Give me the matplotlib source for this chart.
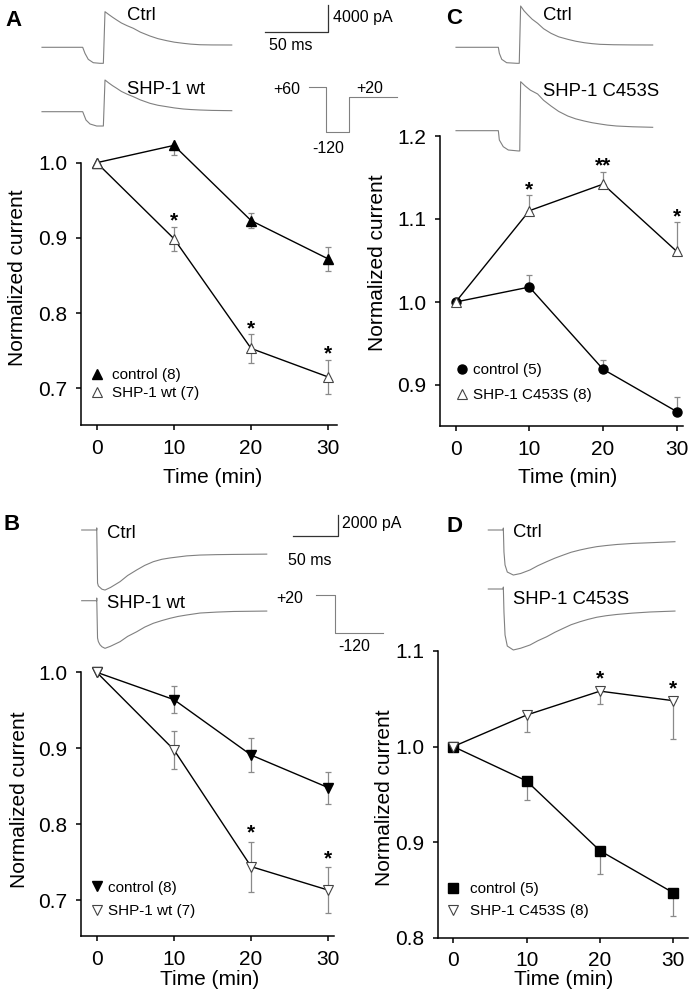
import numpy as np
import matplotlib
matplotlib.use("Agg")
import matplotlib.pyplot as plt
from matplotlib.lines import Line2D

plt.rcParams["font.family"] = ["Liberation Sans", "DejaVu Sans"]

# ---- summary data (normalized current vs time) ----
time_min = [0, 10, 20, 30]

a_ctrl = [1.0, 1.023, 0.923, 0.872]
a_ctrl_err = [0, 0.013, 0.010, 0.016]
a_shp = [1.0, 0.899, 0.753, 0.715]
a_shp_err = [0, 0.016, 0.019, 0.023]
a_stars = ["", "*", "*", "*"]

b_ctrl = [1.0, 0.964, 0.891, 0.848]
b_ctrl_err = [0, 0.018, 0.022, 0.021]
b_shp = [1.0, 0.898, 0.744, 0.713]
b_shp_err = [0, 0.025, 0.033, 0.030]
b_stars = ["", "", "*", "*"]

c_ctrl = [1.0, 1.018, 0.919, 0.868]
c_ctrl_err = [0, 0.014, 0.011, 0.018]
c_shp = [1.0, 1.110, 1.142, 1.061]
c_shp_err = [0, 0.019, 0.015, 0.035]
c_stars = ["", "*", "**", "*"]

d_ctrl = [1.0, 0.964, 0.891, 0.847]
d_ctrl_err = [0, 0.020, 0.024, 0.024]
d_shp = [1.0, 1.033, 1.058, 1.048]
d_shp_err = [0, 0.018, 0.013, 0.040]
d_stars = ["", "", "*", "*"]

# ---- example current traces (ms, pA) ----
a_ctrl_t = [0, 32.3, 34.1, 36.7, 40.7, 46.0, 48.7, 50.0, 53, 56, 59.3, 63, 67.5, 72.5,
            78, 85.7, 92, 99, 105, 112.1, 118, 125.4, 135, 150.6]
a_ctrl_i = [0, 0, -890, -1780, -2280, -2370, -2370, 5270, 4850, 4450, 4040, 3600, 3200, 2810,
            2250, 1670, 1280, 980, 760, 590, 470, 380, 350, 340]
a_shp_t = [0, 32.3, 34.9, 38.1, 43.4, 48.7, 50.0, 53, 56, 59.3, 63, 67.5, 72.5,
           78, 85.7, 92, 99, 105, 112.1, 118, 125.4, 135, 150.6]
a_shp_i = [0, 0, -1230, -1820, -2120, -2120, 4690, 4250, 3850, 3460, 3000, 2600, 2220,
           1750, 1240, 950, 740, 560, 400, 320, 250, 190, 150]

c_ctrl_t = [0, 33.6, 34.4, 36.3, 40.2, 48.2, 50.2, 51.3, 54, 57.1, 60.5, 64.8, 69.5, 75.4,
            81.5, 88.7, 95, 101.8, 108, 114.3, 125, 140, 156.1]
c_ctrl_i = [0, 0, -890, -1780, -2280, -2370, -2370, 6110, 5400, 4780, 4150, 3550, 2750, 2070,
            1550, 1180, 900, 680, 540, 440, 380, 350, 340]
c_shp_t = [0, 33.6, 34.4, 37.5, 41.5, 49.4, 50.6, 51.3, 55, 59, 64.8, 69.5, 75.4,
           81.5, 88.7, 95, 101.8, 108, 114.3, 120, 127.5, 140, 156.1]
c_shp_i = [0, 0, -1380, -2370, -2860, -3000, -3000, 7250, 6600, 6000, 5430, 4500, 3650,
           2850, 2170, 1750, 1430, 1180, 990, 830, 690, 580, 500]

b_ctrl_t = [0, 16.7, 16.7, 17.6, 18.5, 20.3, 22.5, 25.9, 32, 42.6, 51, 61.1, 70, 79.6,
            89, 98.1, 116.7, 131.6, 150, 168.4, 205.6]
b_ctrl_i = [0, 0, 200, -5120, -5400, -5550, -5720, -5800, -5550, -4990, -4400, -3860, -3420,
            -3060, -2830, -2700, -2500, -2420, -2380, -2360, -2330]
b_shp_t = [0, 16.7, 16.7, 17.6, 18.5, 20.3, 22.5, 25.9, 32, 42.6, 51, 61.1, 70, 79.6,
           89, 98.1, 107, 116.7, 131.6, 150, 168.4, 205.6]
b_shp_i = [0, 0, 260, -3600, -3950, -4250, -4450, -4600, -4400, -3960, -3450, -3000, -2550,
           -2180, -1920, -1700, -1520, -1380, -1190, -1100, -1040, -1000]

d_ctrl_t = [0, 16.7, 16.7, 17.4, 18.6, 21.1, 27.8, 36, 46.3, 55, 64.9, 74, 83.3, 92,
            101.9, 111, 120.4, 131, 142.7, 160, 179.7, 207.4]
d_ctrl_i = [0, 0, 190, -2130, -3380, -4060, -4350, -4200, -3860, -3450, -3060, -2720, -2420,
            -2150, -1930, -1760, -1610, -1500, -1400, -1300, -1230, -1130]
d_shp_t = d_ctrl_t
d_shp_i = [0, 0, 190, -2220, -4440, -5510, -5890, -5720, -5410, -5000, -4610, -4180, -3800,
           -3450, -3160, -2930, -2730, -2580, -2460, -2330, -2220, -2130]

# voltage protocols (mV, ms)
a_prot_mv = [60, -120, 20]
a_prot_ms = [13.5, 18.3, 38.1]
b_prot_mv = [20, -120]
b_prot_ms = [21.1, 53.7]

W, H = 694, 1007
fig = plt.figure(figsize=(W / 100, H / 100), dpi=100)

TRACE_COLOR = "#808080"
ERR_COLOR = "#8a8a8a"
OPEN_EDGE = "#444444"


def px_box(l, t, r, b):
    return [l / W, 1 - b / H, (r - l) / W, (b - t) / H]


def fig_text(x, y, s, **kw):
    fig.text(x / W, 1 - y / H, s, **kw)


def trace_axes(box, x0, y0, px_per_x, y_per_px):
    l, t, r, b = box
    ax = fig.add_axes(px_box(*box))
    ax.set_xlim((l - x0) / px_per_x, (r - x0) / px_per_x)
    ax.set_ylim((y0 - b) * y_per_px, (y0 - t) * y_per_px)
    ax.axis("off")
    return ax


def protocol(ax, mv, ms):
    edges = np.concatenate([[0], np.cumsum(ms)])
    ax.step(edges, list(mv) + [mv[-1]], where="post", color=TRACE_COLOR, lw=0.8)


def chart(box, x0px, x30px, yref, yticks, ctrl, ctrl_err, shp, shp_err,
          err_mode, mk_ctrl, mk_shp, ms, labels, stars, star_off, leg):
    l, t, r, b = box
    ax = fig.add_axes(px_box(*box))
    ax.patch.set_visible(False)
    sx = (x30px - x0px) / 30.0
    ax.set_xlim((l - x0px) / sx, (r - x0px) / sx)
    (ypa, va_), (ypb, vb_) = yref
    sy = (ypb - ypa) / (va_ - vb_)
    ax.set_ylim(vb_ - (b - ypb) / sy, va_ + (ypa - t) / sy)

    tt = np.array(time_min)
    for vals, err in [(ctrl, ctrl_err), (shp, shp_err)]:
        vals = np.array(vals)
        err = np.array(err)
        zero = np.zeros_like(err)
        if err_mode == "both":
            yerr = [err[1:], err[1:]]
        elif err_mode == "up":
            yerr = [zero[1:], err[1:]]
        else:
            yerr = [err[1:], zero[1:]]
        ax.errorbar(tt[1:], vals[1:], yerr=yerr, fmt="none", ecolor=ERR_COLOR,
                    elinewidth=0.9, capsize=2, capthick=0.9, zorder=1)

    ax.plot(time_min, ctrl, color="k", lw=1, marker=mk_ctrl, ms=ms,
            mfc="k", mec="k", zorder=3)
    ax.plot(time_min, shp, color="k", lw=1, marker=mk_shp, ms=ms + 0.5,
            mfc="white", mec=OPEN_EDGE, mew=0.8, zorder=3)

    up = np.array(shp) + (np.array(shp_err) if err_mode != "down" else 0)
    for i, s in enumerate(stars):
        if s:
            ax.annotate(s, (time_min[i], up[i]), xytext=(0, star_off),
                        textcoords="offset points", ha="center", va="baseline",
                        fontsize=15, fontweight="bold")

    for side in ["top", "right"]:
        ax.spines[side].set_visible(False)
    ax.spines["left"].set_bounds(ax.get_ylim()[0], yticks[-1])
    ax.spines["left"].set_linewidth(1.1)
    ax.spines["bottom"].set_linewidth(1.1)
    ax.set_xticks(time_min)
    ax.set_yticks(yticks)
    ax.set_yticklabels([f"{v:.1f}" for v in yticks])
    ax.tick_params(direction="out", length=3.8, width=1.1, labelsize=15, pad=6)

    ax.set_ylabel("Normalized current", fontsize=15)
    ax.yaxis.set_label_coords(leg["ylab"][0] / W, 1 - leg["ylab"][1] / H,
                              transform=fig.transFigure)
    ax.set_xlabel("Time (min)", fontsize=15)
    ax.xaxis.set_label_coords(leg["xlab"][0] / W, 1 - leg["xlab"][1] / H,
                              transform=fig.transFigure)

    handles = [
        Line2D([], [], ls="none", marker=mk_ctrl, ms=ms, mfc="k", mec="k"),
        Line2D([], [], ls="none", marker=mk_shp, ms=ms + 0.5, mfc="white",
               mec=OPEN_EDGE, mew=0.8),
    ]
    fs = 11
    fs_px = fs * 100 / 72
    hl = 0.8
    lx = leg["mx"] - hl * fs_px / 2
    ly = leg["y1"] - 8.5
    ax.legend(handles, labels, loc="upper left", frameon=False, fontsize=fs,
              bbox_to_anchor=(lx / W, 1 - ly / H), bbox_transform=fig.transFigure,
              borderpad=0, borderaxespad=0, handlelength=hl, numpoints=1,
              handletextpad=(leg["gap"] - hl * fs_px / 2) / fs_px,
              labelspacing=(leg["dy"] - 17.1) / fs_px)
    return ax


# ---- trace panels ----
ax_ta = trace_axes((30, 0, 420, 140), 42, 47.3, 1.26, 148)
ax_ta.plot(a_ctrl_t, a_ctrl_i, color=TRACE_COLOR, lw=0.8)
ax_ta.plot(a_shp_t, np.array(a_shp_i) - 9530, color=TRACE_COLOR, lw=0.8)
ax_ta.plot([177, 227, 227], [2220, 2220, 6220], color="#333333", lw=0.9)
ax_ta.text(231, 4480, "4000 pA", fontsize=11.5, va="center", ha="left")
ax_ta.text(180, 340, "50 ms", fontsize=11.5, va="center", ha="left")

ax_pa = trace_axes((260, 70, 420, 165), 309, 102.1, 1.26, 4.05)
protocol(ax_pa, a_prot_mv, a_prot_ms)
ax_pa.text(-17.5, 50, "+60", fontsize=11.5, ha="center", va="center")
ax_pa.text(48.4, 54, "+20", fontsize=11.5, ha="center", va="center")
ax_pa.text(15.1, -186, "-120", fontsize=11.5, ha="center", va="center")

ax_tc = trace_axes((440, 0, 694, 165), 456, 47.3, 1.26, 148)
ax_tc.plot(c_ctrl_t, c_ctrl_i, color=TRACE_COLOR, lw=0.8)
ax_tc.plot(c_shp_t, np.array(c_shp_i) - 12340, color=TRACE_COLOR, lw=0.8)

ax_tb = trace_axes((70, 505, 420, 665), 81.7, 530, 0.9, 96.6)
ax_tb.plot(b_ctrl_t, b_ctrl_i, color=TRACE_COLOR, lw=0.8)
ax_tb.plot(b_shp_t, np.array(b_shp_i) - 6830, color=TRACE_COLOR, lw=0.8)
ax_tb.plot([235.1, 285.1, 285.1], [-550, -550, 1450], color="#333333", lw=0.9)
ax_tb.text(289, 676, "2000 pA", fontsize=11.5, va="center", ha="left")
ax_tb.text(229, -2900, "50 ms", fontsize=11.5, va="center", ha="left")

ax_pb = trace_axes((260, 580, 420, 665), 316, 600.5, 0.9, 3.66)
protocol(ax_pb, b_prot_mv, b_prot_ms)
ax_pb.text(-28.9, 9, "+20", fontsize=11.5, ha="center", va="center")
ax_pb.text(42.2, -170, "-120", fontsize=11.5, ha="center", va="center")

ax_td = trace_axes((470, 505, 694, 665), 488.3, 530, 0.9, 96.6)
ax_td.plot(d_ctrl_t, d_ctrl_i, color=TRACE_COLOR, lw=0.8)
ax_td.plot(d_shp_t, np.array(d_shp_i) - 5700, color=TRACE_COLOR, lw=0.8)

# trace labels
for x, y, s in [(126.7, 15, "Ctrl"), (126.7, 89, "SHP-1 wt"),
                (542.7, 15, "Ctrl"), (542.7, 91, "SHP-1 C453S"),
                (107.3, 533.5, "Ctrl"), (107.3, 603.5, "SHP-1 wt"),
                (512.7, 532.7, "Ctrl"), (512.7, 599, "SHP-1 C453S")]:
    fig_text(x, y, s, fontsize=13.3, ha="left", va="center")

# ---- summary charts ----
chart((81, 140, 336.7, 425), 96.7, 328.3, ((162.7, 1.0), (388.3, 0.7)),
      [0.7, 0.8, 0.9, 1.0], a_ctrl, a_ctrl_err, a_shp, a_shp_err, "both",
      "^", "^", 7, ["control (8)", "SHP-1 wt (7)"], a_stars, 0,
      dict(mx=96.7, y1=377, dy=21, gap=15, ylab=(27, 278), xlab=(212.5, 468)))

chart((440, 125, 683.3, 426), 455.7, 676.7, ((219, 1.1), (385, 0.9)),
      [0.9, 1.0, 1.1, 1.2], c_ctrl, c_ctrl_err, c_shp, c_shp_err, "up",
      "o", "^", 6.5, ["control (5)", "SHP-1 C453S (8)"], c_stars, 0,
      dict(mx=461.7, y1=371.7, dy=28.3, gap=11.3, ylab=(387, 263), xlab=(567.5, 468)))

chart((81, 650, 334.3, 936), 96.7, 328.3, ((672.3, 1.0), (900, 0.7)),
      [0.7, 0.8, 0.9, 1.0], b_ctrl, b_ctrl_err, b_shp, b_shp_err, "both",
      "v", "v", 7, ["control (8)", "SHP-1 wt (7)"], b_stars, 2,
      dict(mx=96.7, y1=889.3, dy=26.7, gap=11.6, ylab=(29, 800), xlab=(210, 970)))

chart((438.3, 640, 688.3, 937.7), 453.3, 673.3, ((651, 1.1), (937.7, 0.8)),
      [0.8, 0.9, 1.0, 1.1], d_ctrl, d_ctrl_err, d_shp, d_shp_err, "down",
      "s", "v", 6.5, ["control (5)", "SHP-1 C453S (8)"], d_stars, 4.5,
      dict(mx=453, y1=890.7, dy=25.3, gap=17, ylab=(394, 798), xlab=(564, 970)))

# panel letters
for x, y, s in [(13, 20, "A"), (454, 18, "C"), (12, 525, "B"), (455, 527, "D")]:
    fig_text(x, y, s, fontsize=16, fontweight="bold", ha="center", va="center")

fig.savefig("out.png", dpi=100)
